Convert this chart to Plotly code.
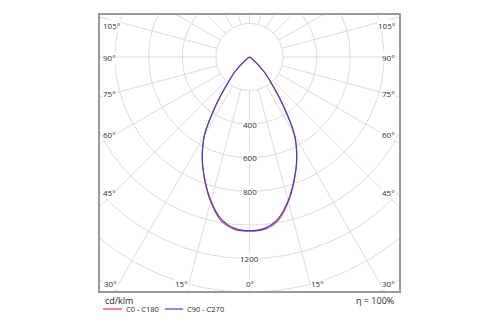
import numpy as np
import plotly.graph_objects as go

# Luminous intensity distribution (cd/klm) over the vertical angle gamma
gamma = [0, 5, 10, 15, 20, 25, 30, 35, 40, 45, 50, 55, 60, 65, 70, 75, 80, 85, 90]
c0_c180 = [1035, 1030, 988, 893, 780, 666, 536, 345, 200, 118, 45, 12, 0, 0, 0, 0, 0, 0, 0]
c90_c270 = [1035, 1024, 978, 887, 777, 665, 535, 345, 200, 118, 45, 12, 0, 0, 0, 0, 0, 0, 0]

series_names = ["C0 - C180", "C90 - C270"]
series_values = [c0_c180, c90_c270]
series_colors = ["#e0505c", "#4b3cc4"]
legend_colors = ["#e98a8a", "#8e8ede"]

radial_grid = [200, 400, 600, 800, 1000, 1200, 1400, 1600, 1800]
radial_labels = [400, 600, 800, 1200]
spoke_angles = list(range(0, 360, 15))
angle_labels = [0, 15, 30, 45, 60, 75, 90, 105]
unit_label = "cd/klm"
efficiency = 100

# Frame geometry (data units) and page layout
X_RANGE = [-890, 890]
Y_RANGE = [-1393, 250]
M_L, M_R, M_T, M_B = 100, 101, 15, 34
W, H = 500, 325
PW, PH = W - M_L - M_R, H - M_T - M_B

FONT = "Open Sans"
TEXT = "#2e2e2e"
GRID = "#dcdcdc"


def px_x(px):
    return (px - M_L) / PW


def px_y(py):
    return (H - M_B - py) / PH


def outline(values):
    g = np.radians(gamma)
    v = np.asarray(values, float)
    zeros = np.nonzero(v == 0)[0]
    end = zeros[0] + 1 if len(zeros) else len(v)
    g, v = g[:end], v[:end]
    xr = v * np.sin(g)
    y = -v * np.cos(g)
    x = np.concatenate([-xr[::-1], xr[1:]])
    yy = np.concatenate([y[::-1], y[1:]])
    return x, yy


fig = go.Figure()

# polar grid: circles
t = np.linspace(0, 2 * np.pi, 361)
for r in radial_grid:
    fig.add_trace(go.Scatter(x=r * np.sin(t), y=r * np.cos(t), mode="lines",
                             line=dict(color=GRID, width=1), hoverinfo="skip",
                             showlegend=False))

# polar grid: spokes, starting at the first circle
r0, r1 = radial_grid[0], 3000
for a in spoke_angles:
    ar = np.radians(a)
    fig.add_trace(go.Scatter(x=[r0 * np.sin(ar), r1 * np.sin(ar)],
                             y=[-r0 * np.cos(ar), -r1 * np.cos(ar)], mode="lines",
                             line=dict(color=GRID, width=1), hoverinfo="skip",
                             showlegend=False))

# intensity curves
for name, vals, col in zip(series_names, series_values, series_colors):
    x, y = outline(vals)
    fig.add_trace(go.Scatter(x=x, y=y, mode="lines", name=name,
                             line=dict(color=col, width=1.2, shape="spline", smoothing=0.8),
                             showlegend=False))

annotations = []

# radial value labels along the nadir
for r in radial_labels:
    annotations.append(dict(x=0, y=-r, xref="x", yref="y", text=str(r), showarrow=False,
                            font=dict(family=FONT, size=8, color=TEXT), bgcolor="white",
                            borderpad=0, xanchor="center", yanchor="middle"))

# angle labels on the frame
side_x = 804
bottom_y = -1351
top_y = 190
for a in angle_labels:
    ar = np.radians(a)
    s, c = np.sin(ar), np.cos(ar)
    y_side = -side_x * c / s if s > 0 else -np.inf
    if y_side < bottom_y:
        xb = -bottom_y * s / c
        if a == 0:
            annotations.append(dict(x=0, y=bottom_y, text=f"{a}°", xanchor="center"))
        else:
            annotations.append(dict(x=-xb, y=bottom_y, text=f"{a}°", xanchor="right"))
            annotations.append(dict(x=xb, y=bottom_y, text=f"{a}°", xanchor="left"))
    else:
        ys = min(y_side, top_y)
        annotations.append(dict(x=-881, y=ys, text=f"{a}°", xanchor="left"))
        annotations.append(dict(x=875, y=ys, text=f"{a}°", xanchor="right"))

for ann in annotations[len(radial_labels):]:
    ann.update(xref="x", yref="y", showarrow=False, yanchor="middle", bgcolor="white",
               borderpad=0, font=dict(family=FONT, size=8, color=TEXT))

# footer texts
annotations.append(dict(x=px_x(103), y=px_y(300), xref="paper", yref="paper", text=unit_label,
                        showarrow=False, xanchor="left", yanchor="middle",
                        font=dict(family=FONT, size=9, color="#2a2a2a")))
annotations.append(dict(x=px_x(396), y=px_y(300), xref="paper", yref="paper",
                        text=f"η = {efficiency}%", showarrow=False, xanchor="right",
                        yanchor="middle", font=dict(family=FONT, size=9, color="#2a2a2a")))

# legend
shapes = []
legend_items = [(103, 122, 124), (165, 183, 185)]
for (x0, x1, xt), name, col in zip(legend_items, series_names, legend_colors):
    shapes.append(dict(type="line", xref="paper", yref="paper", x0=px_x(x0), x1=px_x(x1),
                       y0=px_y(309), y1=px_y(309), line=dict(color=col, width=2)))
    annotations.append(dict(x=px_x(xt), y=px_y(309), xref="paper", yref="paper", text=name,
                            showarrow=False, xanchor="left", yanchor="middle",
                            font=dict(family=FONT, size=7.5, color="#2a2a2a")))

axis_common = dict(showgrid=False, zeroline=False, showticklabels=False, ticks="",
                   showline=True, mirror=True, linecolor="#9a9a9a", linewidth=1.5,
                   fixedrange=True)

fig.update_layout(
    width=W, height=H, autosize=False,
    margin=dict(l=M_L, r=M_R, t=M_T, b=M_B, pad=0),
    paper_bgcolor="white", plot_bgcolor="white",
    xaxis=dict(range=X_RANGE, **axis_common),
    yaxis=dict(range=Y_RANGE, **axis_common),
    annotations=annotations, shapes=shapes,
    showlegend=False,
)

fig.write_html("out.html")
